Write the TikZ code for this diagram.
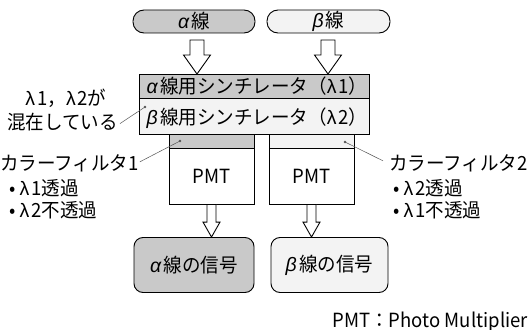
\documentclass[tikz,border=0pt]{standalone}
\usepackage{fontspec}
\setmainfont[FakeStretch=0.95]{Noto Sans CJK JP}
\newfontfamily\grk{Liberation Sans}
\usetikzlibrary{calc}
\newcommand\alp{{\grk\itshape α}\hspace{0.12em}}
\newcommand\bet{{\grk\itshape β}\hspace{0.12em}}
\newcommand\lam{{\grk λ}\hspace{0.1em}}
\definecolor{dgray}{HTML}{C9C9C9}
\definecolor{lgray}{HTML}{F3F3F3}
\definecolor{lead}{HTML}{555555}
\tikzset{
  box/.style={draw=black, line width=0.9pt, inner sep=0pt},
  pill/.style={box, rounded corners=11pt, minimum height=23pt},
  sig/.style={box, rounded corners=9pt, minimum height=55pt},
  barr/.style={draw=black, line width=0.9pt, fill=white, line join=miter},
  leader/.style={draw=lead, line width=0.5pt},
  ldot/.style={fill=lead, circle, inner sep=0pt, minimum size=2.6pt},
  txt/.style={inner sep=0pt, font=\fontsize{19.5}{21}\selectfont},
}
\newcommand\vblockarrow[5]{%
  \path[barr] let \p1=(#1), \p2=(#2) in
    (\x1-#3,\y1) -- (\x1-#3,\y2+#5) -- (\x1-#4,\y2+#5) -- (\x1,\y2)
    -- (\x1+#4,\y2+#5) -- (\x1+#3,\y2+#5) -- (\x1+#3,\y1) -- cycle;}
\begin{document}
\begin{tikzpicture}[x=1pt,y=-1pt]
\useasboundingbox[fill=white] (0,0) rectangle (529,329);
% top pills
\node[pill, fill=dgray, minimum width=122pt, txt] (apill) at (194,21.5) {\alp 線};
\node[pill, fill=lgray, minimum width=123pt, txt] (bpill) at (328.5,21.5) {\bet 線};
% scintillator
\path[box, fill=dgray] (139,74) rectangle (369,98);
\path[box, fill=lgray] (139,98) rectangle (369,134);
\node[txt] (ascint) at (257,86) {\alp 線用シンチレータ（\lam 1）};
\node[txt] (bscint) at (257,118.5) {\bet 線用シンチレータ（\lam 2）};
% filters and PMTs
\node[box, fill=dgray, minimum width=85pt, minimum height=14pt] (f1) at (211.5,141) {};
\node[box, fill=lgray, minimum width=85pt, minimum height=14pt] (f2) at (311.5,141) {};
\node[box, fill=white, minimum width=85pt, minimum height=56pt, txt] (p1) at (211.5,176) {PMT};
\node[box, fill=white, minimum width=85pt, minimum height=56pt, txt] (p2) at (311.5,176) {PMT};
% signals
\node[sig, fill=dgray, minimum width=120pt, txt] (s1) at (194,265) {\alp 線の信号};
\node[sig, fill=lgray, minimum width=117pt, txt] (s2) at (329.5,265) {\bet 線の信号};
% block arrows
\coordinate (a1s) at (197,40);
\coordinate (a1e) at (197,74);
\coordinate (a2s) at (328,40);
\coordinate (a2e) at (328,74);
\vblockarrow{a1s}{a1e}{7pt}{13.5pt}{19pt}
\vblockarrow{a2s}{a2e}{7pt}{13.5pt}{19pt}
\coordinate (b1s) at (p1.south);
\coordinate (b1e) at (s1.north -| b1s);
\coordinate (b2s) at (p2.south);
\coordinate (b2e) at (s2.north -| b2s);
\vblockarrow{b1s}{b1e}{4.5pt}{8.5pt}{15pt}
\vblockarrow{b2s}{b2e}{4.5pt}{8.5pt}{15pt}
% left labels
\node[txt, anchor=base] (mix1) at (66,105) {\lam 1，\lam 2が};
\node[txt, anchor=base west] (mix2) at (7,129) {混在している};
\node[ldot] (d1) at (145,107) {};
\draw[leader] ($(mix2.east)+(2,2)$) -- (d1.center);
\node[txt, anchor=base west] (cf1) at (0,170) {カラーフィルタ1};
\node[ldot] (d2) at (180,141) {};
\draw[leader] ($(cf1.east)+(1,-1)$) -- (d2.center);
\node[txt, anchor=base west] (c1a) at (9,195) {• \lam 1透過};
\node[txt, anchor=base west] (c1b) at (9,217) {• \lam 2不透過};
% right labels
\node[txt, anchor=base west] (cf2) at (389,170) {カラーフィルタ2};
\node[ldot] (d3) at (345,142) {};
\draw[leader] ($(cf2.west)+(-6,-2)$) -- (d3.center);
\node[txt, anchor=base west] (c2a) at (393,195) {• \lam 2透過};
\node[txt, anchor=base west] (c2b) at (393,217) {• \lam 1不透過};
% footnote
\node[txt, anchor=base east] (foot) at (528,327) {PMT：Photo Multiplier};
\end{tikzpicture}
\end{document}
